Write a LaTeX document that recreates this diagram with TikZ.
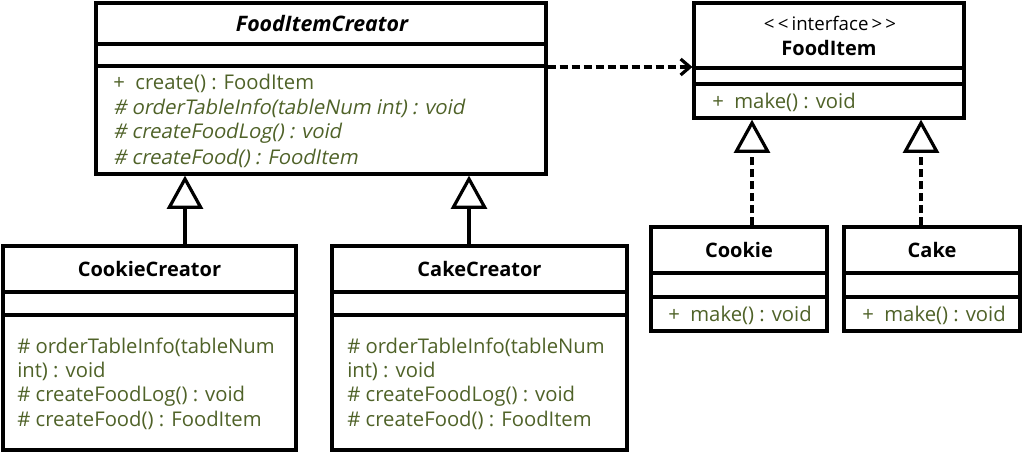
\documentclass[tikz,border=0pt]{standalone}
\usepackage{fontspec}
\setmainfont{Open Sans}
\newfontfamily\slantfont[FakeSlant=0.2]{Open Sans}
\usetikzlibrary{arrows.meta}
\definecolor{meth}{HTML}{4F6228}
\begin{document}
\begin{tikzpicture}[x=0.75pt,y=-0.75pt,
  cls/.style={draw, line width=2.4pt, inner sep=0pt, fill=white},
  sep/.style={line width=2.4pt},
  ttl/.style={font=\fontsize{15}{18}\selectfont\bfseries, inner sep=0pt},
  stereo/.style={font=\fontsize{14}{17}\selectfont, inner sep=0pt},
  meth/.style={font=\fontsize{15.2}{18}\selectfont, text=meth, anchor=west, inner sep=0pt},
  imeth/.style={meth, font=\fontsize{15.2}{18}\selectfont\slantfont},
  gen/.style={line width=2.4pt, -{Triangle[open, length=25pt, width=27pt, fill=white]}},
  real/.style={gen, dash pattern=on 6pt off 3pt},
  dep/.style={line width=2.4pt, dash pattern=on 6pt off 3pt, -{Straight Barb[length=7pt, width=12pt]}}]
\useasboundingbox (0,0) rectangle (1023,453);
% FoodItemCreator
\node[cls, minimum width=337.5pt, minimum height=128.25pt] (fic) at (321,88.5) {};
\draw[sep] (96,44) -- (546,44);
\draw[sep] (96,66) -- (546,66);
\node[ttl, font=\fontsize{16}{19}\selectfont\bfseries\itshape] (ficT) at (322,24) {FoodItemCreator};
\node[meth] (fic1) at (113,83) {+\ \ create() : FoodItem};
\node[imeth] (fic2) at (113,108) {\# orderTableInfo(tableNum int) : void};
\node[imeth] (fic3) at (113,133) {\# createFoodLog() : void};
\node[imeth] (fic4) at (113,158) {\# createFood() : FoodItem};
% FoodItem
\node[cls, minimum width=202.5pt, minimum height=86.25pt] (fi) at (829,60.5) {};
\draw[sep] (694,68) -- (964,68);
\draw[sep] (694,84) -- (964,84);
\node[stereo] (fiS) at (830,23) {<\,<\,interface\,>\,>};
\node[ttl] (fiT) at (829,48) {FoodItem};
\node[meth] (fi1) at (712,102) {+\ \ make() : void};
% CookieCreator
\node[cls, minimum width=219.75pt, minimum height=153pt] (cc) at (149.5,348) {};
\draw[sep] (3,292) -- (296,292);
\draw[sep] (3,315) -- (296,315);
\node[ttl] (ccT) at (149.5,269) {CookieCreator};
\node[meth] (cc1) at (17,347) {\# orderTableInfo(tableNum};
\node[meth] (cc2) at (17,371) {int) : void};
\node[meth] (cc3) at (17,396) {\# createFoodLog() : void};
\node[meth] (cc4) at (17,420) {\# createFood() : FoodItem};
% CakeCreator
\node[cls, minimum width=221.25pt, minimum height=153pt] (kc) at (479.5,348) {};
\draw[sep] (332,292) -- (627,292);
\draw[sep] (332,315) -- (627,315);
\node[ttl] (kcT) at (479.5,269) {CakeCreator};
\node[meth] (kc1) at (347,347) {\# orderTableInfo(tableNum};
\node[meth] (kc2) at (347,371) {int) : void};
\node[meth] (kc3) at (347,396) {\# createFoodLog() : void};
\node[meth] (kc4) at (347,420) {\# createFood() : FoodItem};
% Cookie
\node[cls, minimum width=132pt, minimum height=78pt] (ck) at (739,279) {};
\draw[sep] (651,273) -- (827,273);
\draw[sep] (651,297) -- (827,297);
\node[ttl] (ckT) at (739,250) {Cookie};
\node[meth] (ck1) at (668,315) {+\ \ make() : void};
% Cake
\node[cls, minimum width=132pt, minimum height=78pt] (ca) at (932,279) {};
\draw[sep] (844,273) -- (1020,273);
\draw[sep] (844,297) -- (1020,297);
\node[ttl] (caT) at (932,250) {Cake};
\node[meth] (ca1) at (862,315) {+\ \ make() : void};
% connectors
\coordinate (x1) at (185,0);
\coordinate (x2) at (469,0);
\coordinate (x3) at (752,0);
\coordinate (x4) at (921,0);
\coordinate (yd) at (0,67);
\draw[gen] (cc.north -| x1) -- (fic.south -| x1);
\draw[gen] (kc.north -| x2) -- (fic.south -| x2);
\draw[real] (ck.north -| x3) -- (fi.south -| x3);
\draw[real] (ca.north -| x4) -- (fi.south -| x4);
\draw[dep] (fic.east |- yd) -- (fi.west |- yd);
\end{tikzpicture}
\end{document}
